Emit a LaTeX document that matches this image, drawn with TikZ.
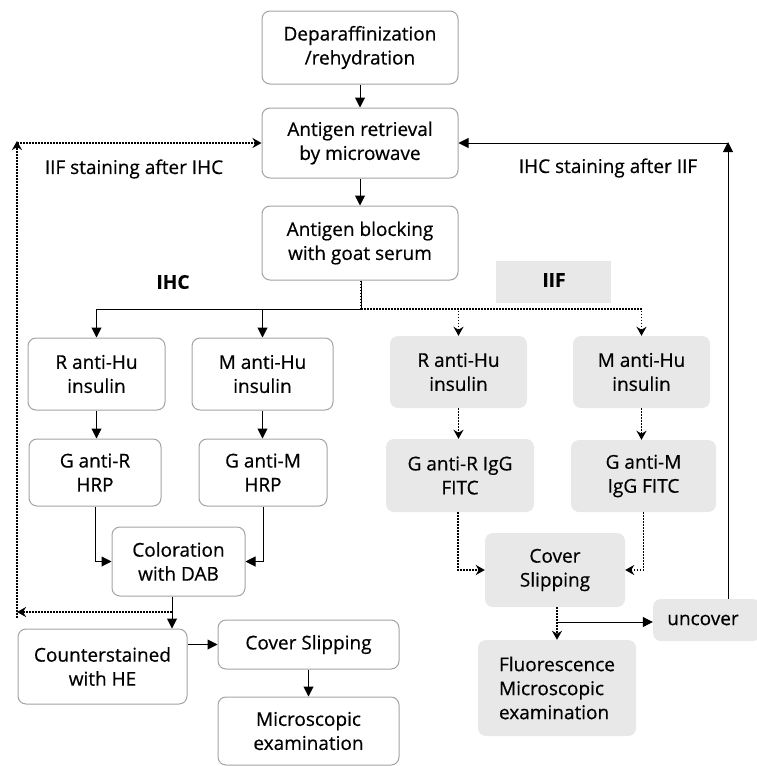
\documentclass[tikz,border=0pt]{standalone}
\usepackage{fontspec}
\setmainfont{Open Sans}[FakeBold=0.5]
\usetikzlibrary{arrows.meta}
\definecolor{boxgray}{HTML}{A3A3A3}
\definecolor{iifgray}{HTML}{E8E8E8}
\tikzset{
  box/.style={draw=boxgray, fill=white, rounded corners=8pt, line width=1pt, align=center, inner sep=0pt, font=\fontsize{19}{24}\selectfont},
  gbox/.style={fill=iifgray, rounded corners=8pt, align=center, inner sep=0pt, font=\fontsize{19}{24}\selectfont},
  arr/.style={-{Triangle[length=10pt,width=10pt]}, line width=1pt},
  plainline/.style={line width=1pt},
  dotline/.style={line width=1.8pt, dash pattern=on 1.6pt off 1.4pt},
  darr/.style={dotline, -{Stealth[length=9pt,width=10pt]}},
  lbl/.style={font=\fontsize{19}{24}\selectfont, inner sep=0pt},
  hdr/.style={font=\fontsize{19}{24}\selectfont\bfseries, inner sep=0pt}
}
\begin{document}
\begin{tikzpicture}[x=1pt,y=-1pt]
\useasboundingbox (0,0) rectangle (756,766);
% IHC column / top
\node[box, minimum width=196pt, minimum height=73pt] (dep) at (360,47.5) {Deparaffinization\\/rehydration};
\node[box, minimum width=196pt, minimum height=70pt] (ret) at (360,143) {Antigen retrieval\\by microwave};
\node[box, minimum width=196pt, minimum height=74pt] (blk) at (360,243) {Antigen blocking\\with goat serum};
\node[hdr] (ihc) at (173,282) {IHC};
\node[fill=iifgray, minimum width=115pt, minimum height=42pt, inner sep=0pt] (iifbg) at (553.5,282) {};
\node[hdr] (iif) at (554,280) {IIF};
\node[box, minimum width=137pt, minimum height=72pt] (rhu) at (96.5,374) {R anti-Hu\\insulin};
\node[box, minimum width=141pt, minimum height=72pt] (mhu) at (262.5,374) {M anti-Hu\\insulin};
\node[box, minimum width=132pt, minimum height=67pt] (gr) at (95,472.5) {G anti-R\\HRP};
\node[box, minimum width=128pt, minimum height=67pt] (gm) at (263,472.5) {G anti-M\\HRP};
\node[box, minimum width=133pt, minimum height=69pt] (col) at (178.5,561.5) {Coloration\\with DAB};
\node[box, minimum width=169pt, minimum height=75pt] (cnt) at (102.5,666.5) {Counterstained\\with HE};
\node[box, minimum width=181pt, minimum height=49pt] (cov) at (308.5,644.5) {Cover Slipping};
\node[box, minimum width=181pt, minimum height=68pt] (mic) at (308.5,731) {Microscopic\\examination};
% IIF column
\node[gbox, minimum width=137pt, minimum height=72pt] (irhu) at (458.5,372) {R anti-Hu\\insulin};
\node[gbox, minimum width=137pt, minimum height=72pt] (imhu) at (641.5,372) {M anti-Hu\\insulin};
\node[gbox, minimum width=148pt, minimum height=73pt] (igr) at (460,475.5) {G anti-R IgG\\FITC};
\node[gbox, minimum width=145pt, minimum height=72pt] (igm) at (643.5,476) {G anti-M\\IgG FITC};
\node[gbox, minimum width=140pt, minimum height=74pt] (icov) at (555,570) {Cover\\Slipping};
\node[gbox, minimum width=158pt, minimum height=96pt, align=left] (flu) at (557,688) {Fluorescence\\Microscopic\\examination};
\node[gbox, minimum width=108pt, minimum height=42pt] (unc) at (707,620) {\hspace*{-8pt}uncover};
% labels
\node[lbl] (l1) at (134,169) {IIF staining after IHC};
\node[lbl] (l2) at (608,168) {IHC staining after IIF};
% coordinates
\coordinate (split) at (361,309);
\coordinate (dl) at (172,612);
\coordinate (lc) at (17,612);
\coordinate (lt) at (17,143);
\coordinate (ub) at (557,622);
\coordinate (rt) at (728,143);
% connectors top
\draw[arr] (dep.south) -- (ret.north);
\draw[arr] (ret.south) -- (blk.north);
\draw[plainline] (blk.south -| split) -- (split);
\draw[dotline] (blk.south -| split) -- (split);
\draw[arr] (split) -| (rhu.north);
\draw[arr] (split -| mhu.north) -- (mhu.north);
\draw[darr] (split) -| (irhu.north);
\draw[darr] (split) -| (imhu.north);
% IHC branch
\draw[arr] (rhu.south) -- (rhu.south |- gr.north);
\draw[arr] (mhu.south) -- (mhu.south |- gm.north);
\draw[arr] (gr.south) |- (col.west);
\draw[arr] (gm.south) |- (col.east);
\draw[arr] (dl |- col.south) -- (dl |- cnt.north);
\draw[darr] (dl) -- (lc);
\draw[darr] ([yshift=-6pt]lc) -- ([yshift=2pt]lt);
\draw[darr] (lt) -- (ret.west);
\draw[arr] (cnt.east |- cov.west) -- (cov.west);
\draw[arr] (cov.south) -- (mic.north);
% IIF branch
\draw[darr] (irhu.south) -- (irhu.south |- igr.north);
\draw[darr] (imhu.south) -- (imhu.south |- igm.north);
\draw[darr] ([xshift=-2pt]igr.south) |- (icov.west);
\draw[darr] (igm.south) |- (icov.east);
\draw[darr] (ub |- icov.south) -- (ub |- flu.north);
\draw[arr] (ub) -- (ub -| unc.west);
\draw[arr] (rt |- unc.north) -- ([yshift=1pt]rt);
\draw[arr] (rt) -- (ret.east);
\end{tikzpicture}
\end{document}
